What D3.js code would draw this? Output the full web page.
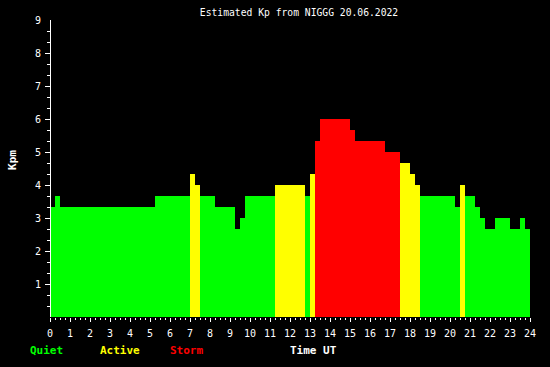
<!DOCTYPE html>
<html>
<head>
<meta charset="utf-8">
<script src="https://cdn.jsdelivr.net/npm/d3@7"></script>
<style>
  body { margin: 0; background: #000; }
  svg { display: block; }
  text { font-family: "DejaVu Sans Mono", monospace; fill: #fff; }
</style>
</head>
<body>
<div id="chart"></div>
<script>
// Kp steps: start hour of each step and the Kp value until the next step
const stepStart = [0, 0.25, 0.5, 5.25, 7.0, 7.25, 7.5, 8.25, 9.25, 9.5, 9.75, 11.25, 12.75, 13.0,
    13.25, 13.5, 15.0, 15.25, 16.75, 17.5, 18.0, 18.25, 18.5, 20.25, 20.5, 20.75, 21.25,
    21.5, 21.75, 22.25, 23.0, 23.5, 23.75];
const kpValues = [3.33, 3.67, 3.33, 3.67, 4.33, 4.0, 3.67, 3.33, 2.67, 3.0, 3.67, 4.0, 3.67, 4.33,
    5.33, 6.0, 5.67, 5.33, 5.0, 4.67, 4.33, 4.0, 3.67, 3.33, 4.0, 3.67, 3.33,
    3.0, 2.67, 3.0, 2.67, 3.0, 2.67];
const dayEnd = 24;
const xTicks = d3.range(0, 25);
const yTicks = [1, 2, 3, 4, 5, 6, 7, 8, 9];
const legend = [
    { label: "Quiet", color: "#00ff00" },
    { label: "Active", color: "#ffff00" },
    { label: "Storm", color: "#ff0000" }
];

const width = 550;
const height = 367;
const margin = { top: 20, right: 20, bottom: 50, left: 50 };

const data = stepStart.map((s, i) => ({
    start: s,
    end: i < stepStart.length - 1 ? stepStart[i + 1] : dayEnd,
    kp: kpValues[i]
}));

function kpColor(kp) {
    if (kp >= 5) return legend[2].color;
    if (kp >= 4) return legend[1].color;
    return legend[0].color;
}

const xScale = d3.scaleLinear().domain([0, 24]).range([margin.left, width - margin.right]);
const yScale = d3.scaleLinear().domain([0, 9]).range([height - margin.bottom, margin.top]);

const svg = d3.select("#chart").append("svg")
    .attr("width", width)
    .attr("height", height)
    .style("background", "#000");

svg.append("text")
    .attr("x", 299)
    .attr("y", 16)
    .attr("text-anchor", "middle")
    .attr("font-size", "9.7px")
    .text("Estimated Kp from NIGGG 20.06.2022");

// bars
svg.append("g")
    .attr("shape-rendering", "crispEdges")
    .selectAll("rect")
    .data(data)
    .join("rect")
    .attr("x", d => xScale(d.start))
    .attr("width", d => xScale(d.end) - xScale(d.start))
    .attr("y", d => yScale(d.kp))
    .attr("height", d => yScale(0) - yScale(d.kp))
    .attr("fill", d => kpColor(d.kp));

// y axis
const yAxis = svg.append("g").attr("shape-rendering", "crispEdges");
yAxis.append("line")
    .attr("x1", margin.left + 0.5).attr("x2", margin.left + 0.5)
    .attr("y1", yScale(9)).attr("y2", yScale(0))
    .attr("stroke", "#fff");
yAxis.selectAll("line.minor")
    .data(d3.range(1, 27).map(i => i / 3))
    .join("line")
    .attr("class", "minor")
    .attr("x1", d => Number.isInteger(Math.round(d * 3) / 3) && Math.round(d * 3) % 3 === 0 ? margin.left - 5 : margin.left - 3)
    .attr("x2", margin.left)
    .attr("y1", d => Math.round(yScale(d)) + 0.5)
    .attr("y2", d => Math.round(yScale(d)) + 0.5)
    .attr("stroke", "#fff");
yAxis.selectAll("text")
    .data(yTicks)
    .join("text")
    .attr("x", margin.left - 9)
    .attr("y", d => yScale(d) + 4)
    .attr("text-anchor", "end")
    .attr("font-size", "10px")
    .text(d => d);

svg.append("text")
    .attr("transform", `translate(16,${160}) rotate(-90)`)
    .attr("text-anchor", "middle")
    .attr("font-size", "11px")
    .attr("font-weight", "bold")
    .text("Kpm");

// x axis
const xAxis = svg.append("g").attr("shape-rendering", "crispEdges");
const baseY = yScale(0);
xAxis.selectAll("line")
    .data(d3.range(0, 97))
    .join("line")
    .attr("x1", d => Math.round(xScale(d / 4)) + 0.5)
    .attr("x2", d => Math.round(xScale(d / 4)) + 0.5)
    .attr("y1", baseY + 1)
    .attr("y2", d => d % 4 === 0 ? baseY + 5 : baseY + 3)
    .attr("stroke", "#fff");
xAxis.selectAll("text")
    .data(xTicks)
    .join("text")
    .attr("x", d => xScale(d))
    .attr("y", baseY + 20)
    .attr("text-anchor", "middle")
    .attr("font-size", "10px")
    .text(d => d);

// legend
svg.append("g").selectAll("text")
    .data(legend)
    .join("text")
    .attr("x", (d, i) => 30 + i * 70)
    .attr("y", 354)
    .attr("font-size", "11px")
    .attr("font-weight", "bold")
    .style("fill", d => d.color)
    .text(d => d.label);

svg.append("text")
    .attr("x", 290)
    .attr("y", 354)
    .attr("font-size", "11px")
    .attr("font-weight", "bold")
    .text("Time UT");
</script>
</body>
</html>
